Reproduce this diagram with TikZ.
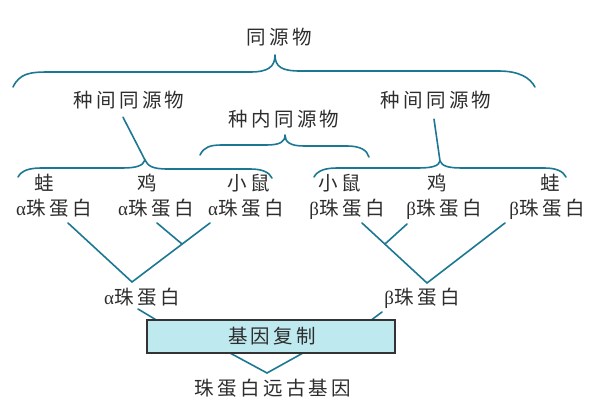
\documentclass[tikz,border=0pt]{standalone}
\usepackage{fontspec}
\newfontfamily\cjk{Noto Sans CJK SC}[LetterSpace=17]
\newfontfamily\gk{Liberation Serif}
\definecolor{ln}{RGB}{28,120,146}
\definecolor{boxfill}{RGB}{190,233,239}
\definecolor{txt}{RGB}{45,45,45}
\newcommand{\ga}{{\gk\fontsize{19}{20}\selectfont α}\hspace{0.5pt}}
\newcommand{\gb}{{\gk\fontsize{19}{20}\selectfont β}\hspace{0.5pt}}
\tikzset{
  lab/.style={font=\cjk\fontsize{19.5}{21}\selectfont, text=txt, inner sep=0pt},
  br/.style={draw=ln, line width=1.6pt, line cap=round, line join=round},
  tree/.style={draw=ln, line width=1.6pt, line cap=round},
  gbox/.style={draw=black!80, line width=1.6pt, fill=boxfill, minimum width=248pt, minimum height=33pt, inner sep=0pt}
}
\begin{document}
\begin{tikzpicture}[x=1pt,y=-1pt]
\useasboundingbox (0,0) rectangle (597,411);
\fill[white] (0,0) rectangle (597,411);
% labels
\node[lab] (top) at (279,37) {同源物};
\node[lab] (interL) at (129,100) {种间同源物};
\node[lab] (interR) at (436,100) {种间同源物};
\node[lab] (intra) at (284,119) {种内同源物};
\node[lab] (s1) at (44,183) {蛙};
\node[lab] (s2) at (147,183) {鸡};
\node[lab] (s3) at (249,183) {小鼠};
\node[lab] (s4) at (340,183) {小鼠};
\node[lab] (s5) at (437,183) {鸡};
\node[lab] (s6) at (550,183) {蛙};
\node[lab] (a1) at (54,208) {\ga 珠蛋白};
\node[lab] (a2) at (156,208) {\ga 珠蛋白};
\node[lab] (a3) at (246,208) {\ga 珠蛋白};
\node[lab] (b1) at (347,209) {\gb 珠蛋白};
\node[lab] (b2) at (444,209) {\gb 珠蛋白};
\node[lab] (b3) at (547,209) {\gb 珠蛋白};
\node[lab] (aa) at (142,297) {\ga 珠蛋白};
\node[lab] (bb) at (422,298) {\gb 珠蛋白};
\node[lab] (anc) at (273,388) {珠蛋白远古基因};
% braces
\draw[br] (13,87) .. controls (20,73) and (30,72) .. (50,72) -- (250,72)
  .. controls (268,72) and (275,67) .. (275,55)
  .. controls (275,67) and (282,71) .. (300,71) -- (498,71)
  .. controls (520,71) and (530,78) .. (535,87);
\draw[br] (200,155) .. controls (204,147) and (210,145) .. (222,145) -- (266,145)
  .. controls (280,145) and (285,142) .. (285,135)
  .. controls (285,142) and (290,146) .. (304,146) -- (347,146)
  .. controls (360,146) and (367,150) .. (369,157);
\coordinate (cL) at (145,160);
\coordinate (cR) at (440,161);
\draw[br] (18,177) .. controls (22,170) and (30,168) .. (42,168) -- (122,168)
  .. controls (136,168) and (143,166) .. (cL)
  .. controls (148,166) and (152,169) .. (168,169) -- (250,169)
  .. controls (262,169) and (269,172) .. (272,178);
\draw[br] (cL) -- ([xshift=-6pt,yshift=-8pt]interL.south);
\draw[br] (314,177) .. controls (318,170) and (326,168) .. (338,168) -- (418,168)
  .. controls (432,168) and (439,166) .. (cR)
  .. controls (442,166) and (448,168) .. (462,168) -- (544,168)
  .. controls (556,168) and (563,171) .. (566,177);
\draw[br] (cR) -- ([xshift=-2pt,yshift=-10pt]interR.south);
% alpha tree
\coordinate (va) at (132,282);
\coordinate (ja) at (182,244);
\coordinate (a1e) at (68,223);
\coordinate (a2e) at (157,223);
\coordinate (a3e) at (210,223);
\draw[tree] (a1e) -- (va) -- (a3e);
\draw[tree] (a2e) -- (ja);
% beta tree
\coordinate (vb) at (427,283);
\coordinate (jb) at (385,244);
\coordinate (b1e) at (362,223);
\coordinate (b2e) at (407,224);
\coordinate (b3e) at (505,223);
\draw[tree] (b1e) -- (vb) -- (b3e);
\draw[tree] (b2e) -- (jb);
% to box
\coordinate (aaE) at (138,309);
\coordinate (bbE) at (382,312);
\coordinate (aaB) at (158,321);
\coordinate (bbB) at (370,321);
\coordinate (vx) at (267,373);
\coordinate (dl) at (230,353);
\coordinate (dr) at (303,353);
\draw[tree] (aaE) -- (aaB);
\draw[tree] (bbE) -- (bbB);
\draw[tree] (dl) -- (vx) -- (dr);
\node[gbox] (dup) at (271,336.5) {};
\node[lab] (duptext) at (dup) {\hspace*{2pt}基因复制};
\end{tikzpicture}
\end{document}
